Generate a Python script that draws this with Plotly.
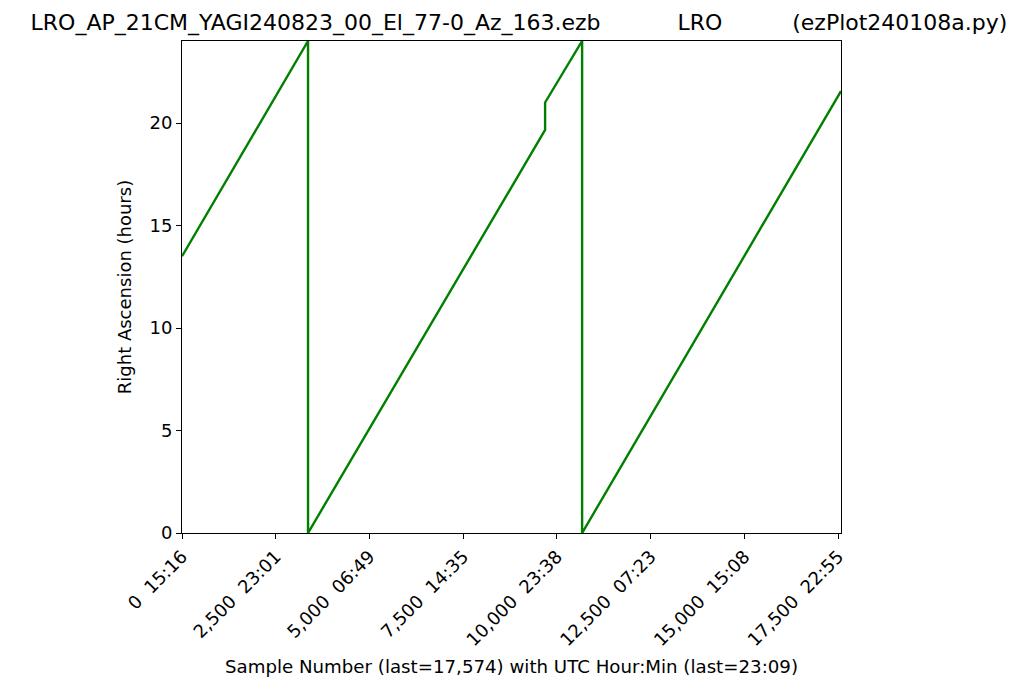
import plotly.graph_objects as go

# Data
sample_number = [0, 3361, 3361, 9683, 9683, 10670, 10670, 17574]
right_ascension = [13.5, 24.0, 0.0, 19.66, 21.0, 24.0, 0.0, 21.56]

x_tick_vals = [0, 2500, 5000, 7500, 10000, 12500, 15000, 17500]
x_tick_text = ["0  15:16", "2,500  23:01", "5,000  06:49", "7,500  14:35",
               "10,000  23:38", "12,500  07:23", "15,000  15:08", "17,500  22:55"]
y_tick_vals = [0, 5, 10, 15, 20]

title_parts = ["LRO_AP_21CM_YAGI240823_00_El_77-0_Az_163.ezb", "LRO", "(ezPlot240108a.py)"]
x_label = "Sample Number (last=17,574) with UTC Hour:Min (last=23:09)"
y_label = "Right Ascension (hours)"

nb = "\u00a0"
x_tick_text_nb = [t.replace(" ", nb) for t in x_tick_text]
title_text = title_parts[0] + nb * 11 + title_parts[1] + nb * 10 + title_parts[2]

fig = go.Figure()
fig.add_trace(go.Scatter(x=sample_number, y=right_ascension, mode="lines",
                         line=dict(color="#008000", width=2.4), showlegend=False))

font_family = "DejaVu Sans"
fig.update_layout(
    width=1024, height=690,
    margin=dict(l=174, r=191, t=33, b=165),
    paper_bgcolor="white", plot_bgcolor="white",
    font=dict(family=font_family, size=18, color="black"),
    title=dict(text=title_text, x=0.499, xanchor="center", y=0.9797, yanchor="middle",
               font=dict(family=font_family, size=22, color="black")),
    xaxis=dict(range=[0, 17574], tickvals=x_tick_vals, ticktext=x_tick_text_nb,
               tickangle=-45, ticks="outside", ticklen=5, tickwidth=1, tickcolor="black",
               showline=True, linecolor="black", linewidth=1, mirror=True,
               showgrid=False, zeroline=False,
               title=dict(text=x_label, font=dict(size=18.2), standoff=11),
               tickfont=dict(size=18)),
    yaxis=dict(range=[0, 24], tickvals=y_tick_vals, ticks="outside", ticklen=5,
               tickwidth=1, tickcolor="black",
               showline=True, linecolor="black", linewidth=1, mirror=True,
               showgrid=False, zeroline=False,
               title=dict(text=y_label, font=dict(size=18), standoff=13),
               tickfont=dict(size=18)),
)

fig.write_html("out.html")
